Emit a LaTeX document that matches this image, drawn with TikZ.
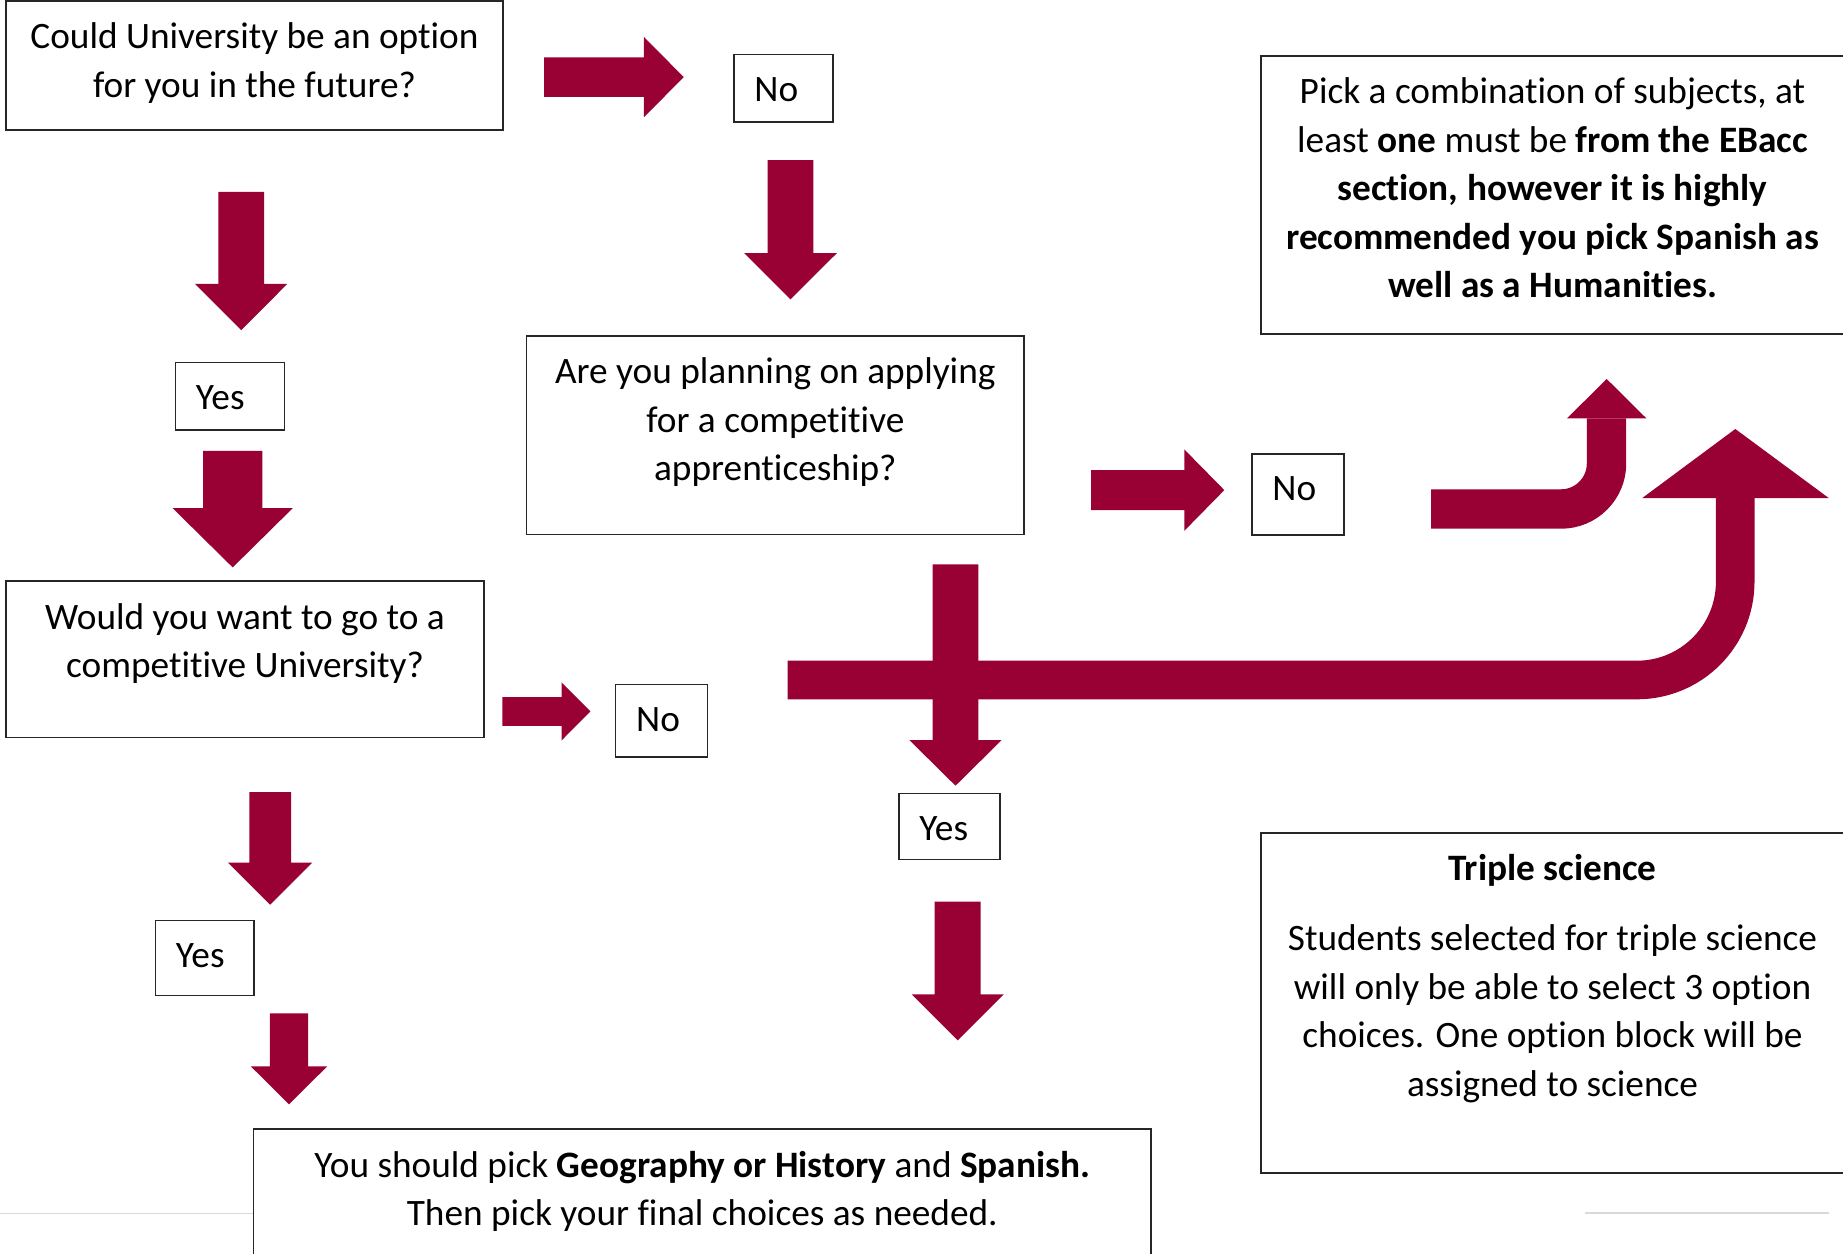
\documentclass[tikz,border=0pt]{standalone}
\usepackage{fontspec}
\setmainfont{Carlito}[Ligatures=CommonOff]
\usepackage{tikz}
\definecolor{flow_red}{RGB}{153, 0, 51}
\definecolor{rule_grey}{RGB}{217, 217, 217}
\tikzstyle{box}=[rectangle,draw=black!85,line width=1.5pt,inner sep=0pt]
\tikzstyle{txt}=[inner sep=0pt,align=center,anchor=north,yshift=-22.5pt,
  font=\fontsize{37.3}{48.5}\selectfont]
\tikzstyle{ltxt}=[inner sep=0pt,anchor=base west,xshift=21pt,yshift=-47.5pt,
  font=\fontsize{37.3}{48.5}\selectfont]
\tikzstyle{bent}=[draw=flow_red,line width=39.4pt]
\newcommand{\downarr}[6]{\fill[flow_red] (#1-#5,#2) -- (#1+#5,#2) -- (#1+#5,#3)
  -- (#1+#6,#3) -- (#1,#4) -- (#1-#6,#3) -- (#1-#5,#3) -- cycle;}
\newcommand{\rightarr}[6]{\fill[flow_red] (#2,#1-#5) -- (#3,#1-#5) -- (#3,#1-#6)
  -- (#4,#1) -- (#3,#1+#6) -- (#3,#1+#5) -- (#2,#1+#5) -- cycle;}

\begin{document}
\begin{tikzpicture}[x=1pt,y=-1pt]
        \useasboundingbox (0,0) rectangle (1843,1253);
        \clip (0,0) rectangle (1843,1253);
        \node[style=box,minimum width=497,minimum height=129] (uni) at (254.5,65.5) {};
        \node[style=box,minimum width=99,minimum height=67.2] (no1) at (783.5,88.2) {};
        \node[style=box,minimum width=497.8,minimum height=198.9] (appr) at (775.3,435.2) {};
        \node[style=box,minimum width=583,minimum height=278.3] (pick) at (1552.5,194.9) {};
        \node[style=box,minimum width=109,minimum height=67.6] (yes1) at (230,396.4) {};
        \node[style=box,minimum width=91.8,minimum height=81] (no2) at (1297.9,494.5) {};
        \node[style=box,minimum width=478.3,minimum height=156.4] (would) at (245,659.4) {};
        \node[style=box,minimum width=91.6,minimum height=72.7] (no3) at (661.5,720.7) {};
        \node[style=box,minimum width=101,minimum height=66.3] (yes2) at (949.5,826.5) {};
        \node[style=box,minimum width=98.6,minimum height=74.7] (yes3) at (204.8,958) {};
        \node[style=box,minimum width=897.5,minimum height=141] (final) at (702.3,1199.5) {};
        \node[style=box,minimum width=583,minimum height=340.3] (triple) at (1552.5,1002.9) {};
        \node[style=txt] (uni_t) at (uni.north) {Could University be an option\\for you in the future?};
        \node[style=ltxt] (no1_t) at (no1.north west) {No};
        \node[style=txt] (appr_t) at (appr.north) {Are you planning on applying\\for a competitive\\apprenticeship?};
        \node[style=txt] (pick_t) at (pick.north) {Pick a combination of subjects, at\\least \textbf{one} must be \textbf{from the EBacc}\\\textbf{section, however it is highly}\\\textbf{recommended you pick Spanish as}\\\textbf{well as a Humanities.}};
        \node[style=ltxt] (yes1_t) at (yes1.north west) {Yes};
        \node[style=ltxt] (no2_t) at (no2.north west) {No};
        \node[style=txt] (would_t) at (would.north) {Would you want to go to a\\competitive University?};
        \node[style=ltxt] (no3_t) at (no3.north west) {No};
        \node[style=ltxt] (yes2_t) at (yes2.north west) {Yes};
        \node[style=ltxt] (yes3_t) at (yes3.north west) {Yes};
        \node[style=txt] (final_t) at (final.north) {You should pick \textbf{Geography or History} and \textbf{Spanish.}\\Then pick your final choices as needed.};
        \node[style=txt] (triple_t) at (triple.north) {\textbf{Triple science}\\[21.5pt]Students selected for triple science\\will only be able to select 3 option\\choices. One option block will be\\assigned to science};
        \rightarr{77.1}{544}{643.8}{683.7}{19.8}{40.3}
        \rightarr{490.1}{1091}{1184.3}{1224.3}{20}{40.7}
        \rightarr{711.4}{502.3}{561.6}{590.4}{14.4}{29}
        \downarr{241.2}{191.8}{283.9}{330.2}{22.9}{46.1}
        \downarr{790.5}{160.1}{253.1}{299.3}{22.9}{46.4}
        \downarr{232.7}{450.8}{508.1}{567.4}{29.6}{60.1}
        \downarr{270.2}{792}{862.7}{904.7}{20.8}{42}
        \downarr{289}{1013.4}{1066.4}{1104.4}{19.1}{38.1}
        \downarr{957.7}{901.6}{994.4}{1040.3}{23}{45.9}
        \downarr{955.5}{564.3}{740}{785.7}{22.8}{46.2}
        \draw[style=bent,rounded corners=45.5] (1431,509) -- (1606.5,509) -- (1606.5,418.3);
        \fill[flow_red] (1567,418.3) -- (1606.7,379) -- (1646.3,418.3) -- cycle;
        \draw[style=bent,line width=38.6pt,rounded corners=98.3] (787.7,680) -- (1735.2,680) -- (1735.2,498);
        \fill[flow_red] (1642.3,498) -- (1735.3,429) -- (1828.7,498) -- cycle;
        \coordinate (rule_l) at (0,1213.5);
        \coordinate (rule_a) at (1585,1213);
        \coordinate (rule_b) at (1829,1213);
        \draw[rule_grey,line width=1.8pt] (rule_l) -- (rule_l -| final.west);
        \draw[rule_grey,line width=1.8pt] (rule_a) -- (rule_b);
    \end{tikzpicture}
\end{document}
